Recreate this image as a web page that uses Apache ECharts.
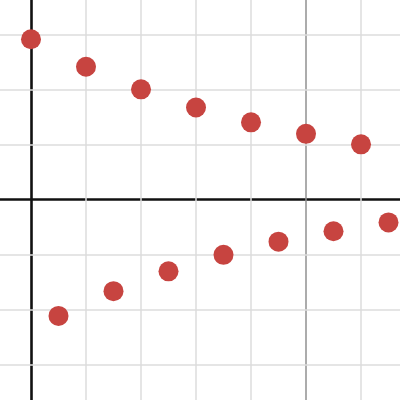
<!DOCTYPE html>
<html>
<head>
<meta charset="utf-8">
<script src="https://cdn.jsdelivr.net/npm/echarts@6/dist/echarts.min.js"></script>
<style>
  html, body { margin: 0; padding: 0; background: #fff; }
  #chart { width: 400px; height: 400px; }
</style>
</head>
<body>
<div id="chart"></div>
<script>
// upper points, at whole x
const upperX = [0, 1, 2, 3, 4, 5, 6]
const upperY = [2.91, 2.41, 2.0, 1.67, 1.4, 1.19, 1.0]
// lower points, at half x
const lowerX = [0.5, 1.5, 2.5, 3.5, 4.5, 5.5, 6.5]
const lowerY = [-2.12, -1.67, -1.31, -1.01, -0.77, -0.58, -0.42]
// grid lines
const gridX = [1, 2, 3, 4, 6]
const majorX = [5]
const gridY = [-3, -2, -1, 1, 2, 3]

const chart = echarts.init(document.getElementById('chart'))

const pts = (xs, ys) => xs.map((x, i) => [x, ys[i]])
const axisStyle = { onZero: true, lineStyle: { color: '#111', width: 2.6 } }

chart.setOption({
  animation: false,
  grid: { left: 0, right: 0, top: 0, bottom: 0 },
  xAxis: {
    type: 'value',
    z: 3,
    min: -0.5636,
    max: 6.709,
    axisLine: axisStyle,
    axisTick: { show: false },
    axisLabel: { show: false },
    splitLine: { show: false }
  },
  yAxis: {
    type: 'value',
    z: 3,
    min: -3.649,
    max: 3.624,
    axisLine: axisStyle,
    axisTick: { show: false },
    axisLabel: { show: false },
    splitLine: { show: false }
  },
  series: [
    {
      // grid lines, kept under the axes and the points
      type: 'scatter',
      data: [],
      z: 1,
      silent: true,
      markLine: {
        silent: true,
        symbol: 'none',
        label: { show: false },
        emphasis: { disabled: true },
        data: [
          ...gridX.map(x => ({ xAxis: x, lineStyle: { color: '#dcdcdc', width: 1.5, type: 'solid' } })),
          ...majorX.map(x => ({ xAxis: x, lineStyle: { color: '#909090', width: 1.5, type: 'solid' } })),
          ...gridY.map(y => ({ yAxis: y, lineStyle: { color: '#dcdcdc', width: 1.5, type: 'solid' } }))
        ]
      }
    },
    {
      type: 'scatter',
      z: 5,
      data: pts(upperX, upperY),
      symbolSize: 20,
      itemStyle: { color: '#c74440', opacity: 1 }
    },
    {
      type: 'scatter',
      z: 5,
      data: pts(lowerX, lowerY),
      symbolSize: 20,
      itemStyle: { color: '#c74440', opacity: 1 }
    }
  ]
})
</script>
</body>
</html>
